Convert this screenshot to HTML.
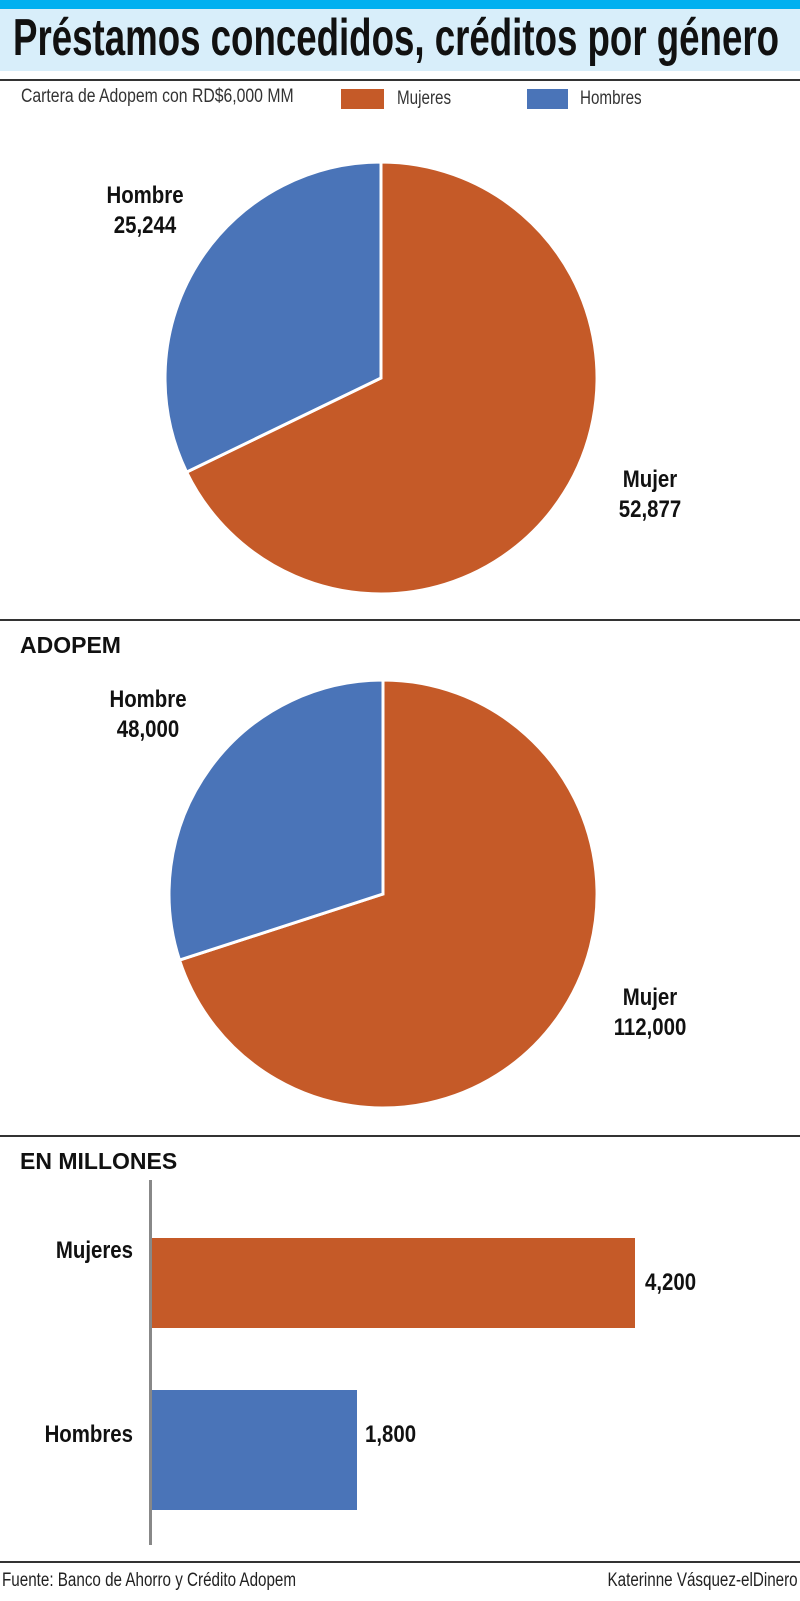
<!DOCTYPE html>
<html><head><meta charset="utf-8"><style>
body{margin:0;width:800px;height:1601px;background:#fff;position:relative;overflow:hidden;font-family:"Liberation Sans",sans-serif}
.a{position:absolute}
.cn{transform:scaleX(0.8);transform-origin:left top;white-space:nowrap}
.lbl{font-weight:bold;font-size:24px;text-align:center;line-height:30px;color:#111;transform:scaleX(0.85)}
</style></head><body>
<div class="a" style="left:0;top:0;width:800px;height:9px;background:#00b0f0"></div>
<div class="a" style="left:0;top:9px;width:800px;height:62px;background:#d8eefa"></div>
<div class="a cn" style="left:13px;top:8px;font-size:52px;font-weight:bold;color:#111;transform:scaleX(0.705)">Préstamos concedidos, créditos por género</div>
<div class="a" style="left:0;top:79px;width:800px;height:2px;background:#333"></div>
<div class="a cn" style="left:21px;top:86px;font-size:19px;color:#333;transform:scaleX(0.83)">Cartera de Adopem con RD$6,000 MM</div>
<div class="a" style="left:341px;top:89px;width:43px;height:20px;background:#c55a28"></div>
<div class="a cn" style="left:397px;top:88px;font-size:19px;color:#333">Mujeres</div>
<div class="a" style="left:527px;top:89px;width:41px;height:20px;background:#4a74b8"></div>
<div class="a cn" style="left:580px;top:88px;font-size:19px;color:#333">Hombres</div>
<svg class="a" style="left:0;top:0" width="800" height="1601">
<path d="M381,378 L381,162 A216,216 0 1 1 186.6,472.1 Z" fill="#c55a28" stroke="#fff" stroke-width="3"/>
<path d="M381,378 L186.6,472.1 A216,216 0 0 1 381,162 Z" fill="#4a74b8" stroke="#fff" stroke-width="3"/>
<path d="M383,894 L383,680 A214,214 0 1 1 179.5,960.1 Z" fill="#c55a28" stroke="#fff" stroke-width="3"/>
<path d="M383,894 L179.5,960.1 A214,214 0 0 1 383,680 Z" fill="#4a74b8" stroke="#fff" stroke-width="3"/>
<rect x="0" y="619" width="800" height="2" fill="#333"/>
<rect x="0" y="1135" width="800" height="2" fill="#333"/>
<rect x="0" y="1561" width="800" height="2" fill="#333"/>
<rect x="149" y="1180" width="3" height="365" fill="#888"/>
<rect x="152" y="1238" width="483" height="90" fill="#c55a28"/>
<rect x="152" y="1390" width="205" height="120" fill="#4a74b8"/>
</svg>
<div class="a lbl" style="left:85px;top:181px;width:120px">Hombre<br>25,244</div>
<div class="a lbl" style="left:590px;top:465px;width:120px">Mujer<br>52,877</div>
<div class="a lbl" style="left:88px;top:685px;width:120px">Hombre<br>48,000</div>
<div class="a lbl" style="left:590px;top:983px;width:120px">Mujer<br>112,000</div>
<div class="a" style="left:20px;top:632px;font-size:23px;font-weight:bold;color:#111">ADOPEM</div>
<div class="a" style="left:20px;top:1148px;font-size:23px;font-weight:bold;color:#111">EN MILLONES</div>
<div class="a lbl" style="left:13px;top:1236px;width:120px;text-align:right;transform-origin:right top">Mujeres</div>
<div class="a lbl" style="left:13px;top:1420px;width:120px;text-align:right;transform-origin:right top">Hombres</div>
<div class="a lbl" style="left:645px;top:1268px;text-align:left;transform-origin:left top">4,200</div>
<div class="a lbl" style="left:365px;top:1420px;text-align:left;transform-origin:left top">1,800</div>
<div class="a cn" style="left:2px;top:1570px;font-size:19px;color:#222">Fuente: Banco de Ahorro y Crédito Adopem</div>
<div class="a" style="right:2px;top:1570px;font-size:19px;color:#222;transform:scaleX(0.8);transform-origin:right top;white-space:nowrap">Katerinne Vásquez-elDinero</div>
</body></html>
